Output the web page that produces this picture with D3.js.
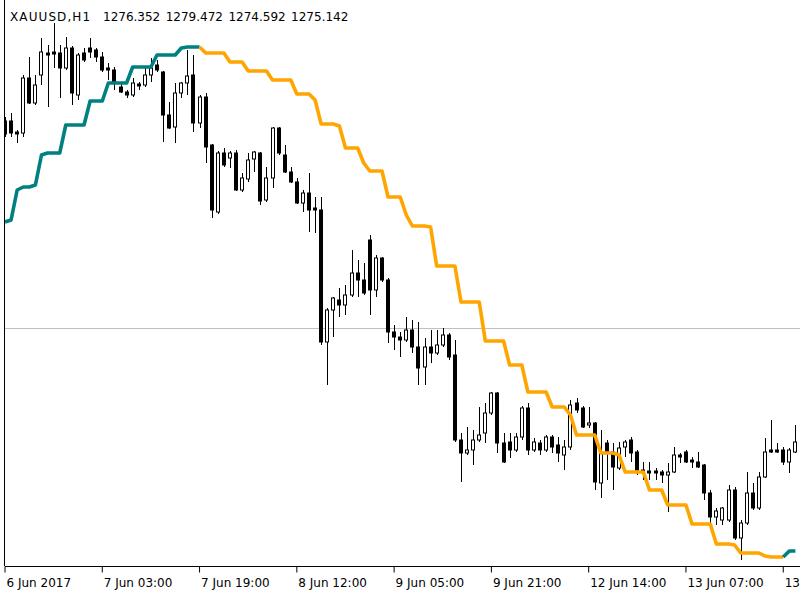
<!DOCTYPE html>
<html>
<head>
<meta charset="utf-8">
<script src="https://cdn.jsdelivr.net/npm/d3@7"></script>
<style>
body { margin: 0; background: #fff; }
#grafic { position: absolute; left: 0; top: 0; }
text { font-family: "DejaVu Sans", sans-serif; }
</style>
</head>
<body>
<div id="grafic"></div>
<script>
// capçalera
const simbol = 'XAUUSD,H1';
const capVals = ['1276.352', '1279.472', '1274.592', '1275.142'];

// espelmes H1, 131 barres
const opens = [
	1290.32,1290.32,1289.44,1289.36,1293.76,1291.76,1294.00,1295.76,1295.84,1295.76,
	1294.56,1296.16,1292.40,1295.76,1296.16,1296.00,1295.44,1294.56,1294.40,1293.04,
	1292.64,1292.40,1293.28,1293.20,1294.00,1294.80,1294.24,1290.80,1289.84,1292.56,
	1293.36,1294.00,1290.16,1292.24,1288.40,1283.04,1287.76,1287.36,1287.76,1284.80,
	1285.68,1287.28,1287.76,1284.00,1285.76,1289.76,1287.60,1286.24,1285.44,1283.76,
	1284.56,1283.36,1283.20,1272.64,1275.20,1276.00,1275.60,1276.40,1278.16,1277.60,
	1280.80,1276.80,1279.36,1277.60,1273.44,1273.04,1272.80,1273.60,1272.24,1270.64,
	1272.24,1271.76,1272.40,1273.20,1271.60,1264.80,1263.76,1264.00,1264.80,1265.36,
	1266.96,1268.56,1264.56,1264.64,1264.00,1265.04,1267.36,1264.00,1264.56,1264.00,
	1265.04,1264.40,1263.60,1264.24,1267.76,1267.36,1266.00,1266.16,1261.36,1264.56,
	1263.84,1262.56,1264.24,1264.80,1263.84,1262.40,1262.32,1262.32,1262.24,1262.00,
	1262.24,1263.60,1263.84,1263.20,1263.04,1262.80,1260.56,1258.64,1258.40,1258.40,
	1260.80,1256.96,1258.16,1260.56,1259.36,1261.84,1264.00,1264.00,1264.00,1263.04,
	1263.84
];
const highs = [
	1290.64,1290.96,1289.60,1294.00,1295.44,1294.00,1296.96,1296.40,1298.16,1296.40,
	1297.04,1296.32,1295.76,1296.16,1296.96,1296.16,1295.84,1294.96,1294.64,1293.44,
	1292.80,1293.76,1293.44,1294.64,1295.36,1295.20,1294.32,1291.84,1293.36,1293.44,
	1296.00,1295.60,1292.40,1292.56,1288.48,1287.92,1288.16,1287.92,1288.00,1286.16,
	1287.76,1287.92,1287.84,1286.64,1289.84,1289.84,1288.40,1286.64,1285.76,1284.80,
	1286.16,1284.24,1284.24,1275.36,1276.24,1276.96,1277.20,1280.00,1279.20,1278.96,
	1281.20,1279.60,1279.44,1277.76,1274.00,1273.44,1274.64,1274.40,1274.24,1272.96,
	1273.60,1273.60,1273.76,1273.36,1272.80,1265.36,1265.84,1265.60,1267.44,1267.76,
	1268.64,1268.64,1265.36,1265.36,1265.36,1267.52,1267.76,1264.96,1264.80,1265.20,
	1265.20,1265.04,1264.80,1268.00,1268.16,1267.52,1267.44,1266.24,1265.60,1264.80,
	1264.56,1264.64,1264.80,1265.04,1264.00,1263.04,1263.04,1262.56,1262.40,1262.96,
	1264.24,1263.76,1264.00,1263.44,1263.84,1262.88,1260.80,1259.36,1259.44,1261.20,
	1261.04,1258.40,1262.24,1261.36,1262.24,1264.96,1266.40,1264.56,1264.24,1264.16,
	1266.00
];
const lows = [
	1289.04,1289.04,1288.56,1289.04,1291.68,1291.60,1293.20,1291.44,1294.56,1292.16,
	1294.40,1291.60,1292.00,1295.04,1295.36,1295.04,1294.24,1293.60,1292.80,1292.56,
	1292.16,1292.24,1292.80,1293.04,1293.44,1294.24,1288.64,1289.68,1288.56,1292.16,
	1292.40,1289.44,1289.76,1286.96,1282.56,1282.88,1286.64,1286.56,1284.72,1284.64,
	1285.44,1286.24,1283.60,1283.84,1284.96,1287.60,1286.16,1285.36,1283.68,1283.04,
	1281.44,1281.36,1272.40,1269.20,1273.04,1274.64,1274.80,1276.24,1276.24,1276.40,
	1274.80,1276.24,1277.44,1272.56,1272.00,1271.44,1272.64,1271.76,1269.20,1269.20,
	1270.96,1271.60,1272.24,1271.20,1264.64,1261.44,1263.60,1262.80,1264.64,1264.56,
	1266.80,1263.76,1262.96,1263.36,1263.84,1264.80,1263.60,1263.84,1263.60,1263.84,
	1263.76,1263.04,1262.40,1264.00,1266.96,1265.76,1265.76,1260.80,1260.16,1261.60,
	1260.80,1262.40,1263.44,1263.04,1262.00,1261.60,1261.60,1261.60,1261.36,1259.04,
	1262.16,1262.96,1262.96,1262.56,1262.56,1260.00,1258.00,1258.00,1258.00,1258.24,
	1256.80,1255.20,1258.00,1259.20,1259.20,1261.76,1263.76,1263.76,1262.80,1262.16,
	1263.76
];
const closes = [
	1289.28,1289.36,1289.28,1293.76,1291.76,1293.20,1295.84,1295.60,1295.68,1294.56,
	1296.16,1292.56,1295.60,1295.20,1295.84,1295.44,1294.40,1294.40,1293.44,1292.64,
	1292.40,1293.36,1293.12,1294.00,1294.56,1294.40,1290.80,1289.76,1292.56,1293.36,
	1293.92,1290.16,1292.24,1288.24,1283.20,1287.76,1286.80,1287.76,1284.80,1285.76,
	1287.20,1287.84,1283.92,1285.76,1289.76,1287.76,1286.24,1285.44,1283.76,1284.56,
	1283.20,1283.20,1272.64,1275.20,1276.16,1275.60,1276.40,1278.16,1277.60,1276.56,
	1276.80,1279.36,1277.60,1273.44,1273.04,1272.80,1273.60,1272.24,1270.56,1272.24,
	1271.76,1272.40,1273.20,1271.44,1264.80,1263.76,1264.00,1264.80,1265.20,1266.96,
	1268.56,1264.56,1263.04,1264.00,1265.04,1267.36,1264.00,1264.64,1264.00,1265.04,
	1264.24,1263.76,1264.24,1267.60,1267.20,1265.84,1266.16,1261.44,1263.76,1263.76,
	1262.64,1264.16,1264.64,1263.76,1262.40,1262.24,1262.16,1262.16,1262.00,1262.24,
	1263.60,1263.44,1263.04,1263.04,1262.64,1260.56,1258.64,1259.12,1259.36,1260.80,
	1256.96,1258.16,1260.56,1259.36,1261.84,1263.84,1263.84,1263.84,1263.04,1264.00,
	1264.64
];

// indicador esglaonat
const linia = [
	1282.24,1282.40,1284.80,1285.04,1285.04,1285.20,1287.60,1287.76,1287.76,1287.76,
	1290.00,1290.00,1290.00,1290.00,1291.92,1291.92,1291.92,1293.36,1293.36,1293.36,
	1293.36,1294.64,1294.64,1294.64,1294.64,1295.60,1295.60,1295.60,1295.60,1296.16,
	1296.24,1296.24,1296.24,1295.76,1295.76,1295.76,1295.76,1295.04,1295.04,1295.04,
	1294.32,1294.32,1294.32,1294.32,1293.60,1293.60,1293.60,1293.60,1292.48,1292.48,
	1292.48,1292.00,1290.08,1290.08,1290.08,1289.92,1288.16,1288.16,1288.16,1286.96,
	1286.32,1286.32,1286.32,1284.24,1284.24,1284.24,1282.80,1281.92,1281.92,1281.92,
	1281.84,1278.72,1278.72,1278.72,1278.72,1275.84,1275.84,1275.84,1275.84,1272.72,
	1272.72,1272.72,1272.72,1270.80,1270.80,1270.80,1268.64,1268.64,1268.64,1268.64,
	1267.44,1267.44,1267.44,1266.80,1265.20,1265.20,1265.20,1265.20,1263.76,1263.76,
	1263.76,1263.60,1262.24,1262.24,1262.24,1262.24,1260.80,1260.80,1260.80,1259.60,
	1259.60,1259.60,1259.60,1258.08,1258.08,1258.08,1258.08,1256.48,1256.48,1256.48,
	1256.40,1255.76,1255.76,1255.76,1255.76,1255.52,1255.44,1255.44,1255.44,1255.92,
	1255.92
];
// trams de color: [primera barra, darrera barra, tendència]
const trams = [[0, 32, 'up'], [33, 128, 'down'], [129, 130, 'up']];
const colors = {up: '#008080', down: '#ffa500'};

const nivell = 1273.76;

const tickBars = [0, 16, 32, 48, 64, 80, 96, 112, 128];
const tickLabels = ['6 Jun 2017', '7 Jun 03:00', '7 Jun 19:00', '8 Jun 12:00', '9 Jun 05:00',
	'9 Jun 21:00', '12 Jun 14:00', '13 Jun 07:00', '13 Jun 23:00'];

const Amplada = 800, Alçada = 600;
const esq = 5, baix = 566;

const svg = d3.select('#grafic').append('svg')
	.attr('width', Amplada)
	.attr('height', Alçada);

const x = d3.scaleLinear().domain([0, 130]).range([5, 795.4]);
const y = d3.scaleLinear().domain([1252, 1300]).range([Alçada, 0]);

svg.append('clipPath').attr('id', 'zona')
	.append('rect').attr('x', esq).attr('y', 0).attr('width', Amplada - esq).attr('height', baix);

const plot = svg.append('g').attr('clip-path', 'url(#zona)');

// línia de nivell
plot.append('line')
	.attr('x1', esq).attr('x2', Amplada)
	.attr('y1', Math.round(y(nivell)) + 0.5).attr('y2', Math.round(y(nivell)) + 0.5)
	.attr('stroke', '#c0c0c0').attr('stroke-width', 1);

const barres = d3.range(opens.length);

const espelma = plot.selectAll('g.esp')
	.data(barres)
	.join('g')
		.attr('class', 'esp');

espelma.append('line')
	.attr('x1', i => Math.round(x(i)) + 0.5)
	.attr('x2', i => Math.round(x(i)) + 0.5)
	.attr('y1', i => y(highs[i]))
	.attr('y2', i => y(lows[i]))
	.attr('stroke', '#000')
	.attr('stroke-width', 1);

espelma.append('rect')
	.attr('x', i => Math.round(x(i)) - 1.5)
	.attr('width', 3)
	.attr('y', i => y(d3.max([opens[i], closes[i]])))
	.attr('height', i => Math.max(1, Math.abs(y(opens[i]) - y(closes[i]))))
	.attr('fill', i => closes[i] >= opens[i] ? '#fff' : '#000')
	.attr('stroke', '#000')
	.attr('stroke-width', 1);

// indicador
const traç = d3.line()
	.x(i => x(i))
	.y(i => y(linia[i]));

for (let t = 0; t < trams.length; t++) {
	const [a, b, tend] = trams[t];
	const idx = d3.range(Math.max(0, a - 1), b + 1);
	plot.append('path')
		.attr('d', traç(idx))
		.attr('fill', 'none')
		.attr('stroke', colors[tend])
		.attr('stroke-width', 3.6)
		.attr('stroke-linejoin', 'round');
}

// marc
svg.append('line')
	.attr('x1', 4.5).attr('x2', 4.5)
	.attr('y1', 0).attr('y2', baix)
	.attr('stroke', '#000');

const eix = d3.axisBottom(x)
	.tickValues(tickBars)
	.tickFormat((d, i) => tickLabels[i])
	.tickSize(6)
	.tickSizeOuter(0);

const gEix = svg.append('g')
	.attr('transform', `translate(0,${baix + 0.5})`)
	.call(eix);
gEix.select('.domain').remove();
gEix.selectAll('.tick line').attr('stroke', '#000')
	.attr('transform', 'translate(-0.5,0)');
gEix.selectAll('.tick text')
	.attr('text-anchor', 'start')
	.attr('x', 1)
	.attr('y', 12)
	.attr('fill', '#000')
	.style('font-size', '12px')
	.style('font-family', '"DejaVu Sans", sans-serif');

svg.append('line')
	.attr('x1', esq).attr('x2', Amplada)
	.attr('y1', baix + 0.5).attr('y2', baix + 0.5)
	.attr('stroke', '#000');

// capçalera: símbol i OHLC
const cap = svg.append('g')
	.attr('transform', 'translate(10,21)')
	.style('font-size', '12px')
	.attr('fill', '#000');
cap.append('text')
	.attr('x', 0)
	.style('letter-spacing', '1.1px')
	.text(simbol);
cap.selectAll('text.val')
	.data(capVals)
	.join('text')
		.attr('class', 'val')
		.attr('x', (d, i) => 93 + i * 62.7)
		.text(d => d);
</script>
</body>
</html>
